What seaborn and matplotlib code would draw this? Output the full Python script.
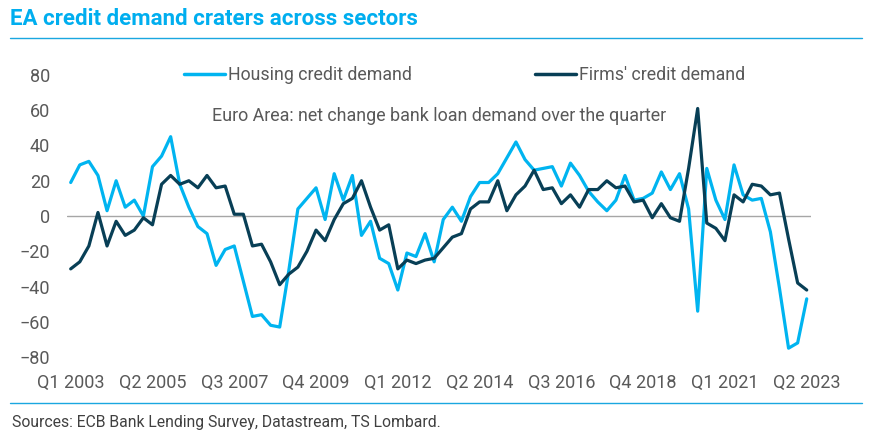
import matplotlib
matplotlib.use("Agg")
import matplotlib.pyplot as plt
from matplotlib.lines import Line2D
import seaborn as sns
import pandas as pd
import numpy as np

# ---- data (Q1 2003 .. Q2 2023, quarterly) ----
housing = [19, 29, 31, 23, 3, 20, 5, 9, 0, 28,
           34, 45, 18, 5, -6, -10, -28, -19, -17, -37,
           -57, -56, -62, -63, -31, 4, 10, 16, -2, 24,
           9, 23, -11, -3, -24, -27, -42, -21, -23, -10,
           -26, -2, 5, -3, 11, 19, 19, 24, 33, 42,
           32, 26, 27, 28, 17, 30, 23, 14, 8, 3,
           9, 23, 9, 10, 13, 25, 15, 24, 4, -54,
           27, 9, -2, 29, 12, 9, 10, -9, -41, -75,
           -72, -47]
firms = [-30, -26, -17, 2, -17, -3, -11, -8, -1, -5,
         18, 23, 18, 20, 16, 23, 16, 17, 1, 1,
         -17, -16, -26, -39, -33, -29, -20, -8, -14, -2,
         7, 10, 20, 5, -8, -5, -30, -25, -27, -25,
         -24, -18, -12, -10, 4, 8, 8, 20, 3, 12,
         17, 26, 15, 16, 7, 12, 5, 15, 15, 20,
         16, 17, 8, 9, -1, 7, -1, -3, 27, 61,
         -4, -7, -14, 12, 8, 18, 17, 12, 13, -13,
         -38, -42]
tick_labels = ["Q1 2003", "Q2 2005", "Q3 2007", "Q4 2009", "Q1 2012",
               "Q2 2014", "Q3 2016", "Q4 2018", "Q1 2021", "Q2 2023"]
series_names = ["Housing credit demand", "Firms' credit demand"]
colors = ["#00B4F0", "#083F56"]

n = len(housing)
df = pd.DataFrame({
    "q": list(range(n)) * 2,
    "value": housing + firms,
    "series": [series_names[0]] * n + [series_names[1]] * n,
})

sns.set_theme(style="white")
plt.rcParams["font.family"] = ["Roboto", "DejaVu Sans"]

fig = plt.figure(figsize=(8.71, 4.42), dpi=100)
ax = fig.add_axes([66.7 / 871, 1 - 357 / 442, (811 - 66.7) / 871, (357 - 75) / 442])

sns.lineplot(data=df, x="q", y="value", hue="series", palette=colors,
             linewidth=2.3, ax=ax, legend=False)

ax.axhline(0, color="#A6A6A6", linewidth=1.0, zorder=0)
ax.set_xlim(-0.44, n - 1 + 0.47)
ax.set_ylim(-80, 80)
ax.set_yticks(range(-80, 81, 20))
ax.set_xticks(range(0, n, 9))
ax.set_xticklabels(tick_labels)
ax.set_xlabel("")
ax.set_ylabel("")
for s in ax.spines.values():
    s.set_visible(False)
ax.tick_params(axis="both", length=0, labelsize=13, labelcolor="#595959")
ax.tick_params(axis="x", pad=12)
ax.tick_params(axis="y", pad=12)
ax.patch.set_alpha(0)

handles = [Line2D([0], [0], color=c, linewidth=2.5) for c in colors]
fig.legend(handles, series_names, loc="center", bbox_to_anchor=(464.5 / 871, 1 - 75 / 442),
           ncol=2, frameon=False, fontsize=12.8, labelcolor="#595959",
           handlelength=2.3, handletextpad=0.2, columnspacing=6.9)

fig.text(439 / 871, 1 - 116 / 442, "Euro Area: net change bank loan demand over the quarter",
         ha="center", va="center", fontsize=12.85, color="#595959")

fig.text(10 / 871, 1 - 19 / 442, "EA credit demand craters across sectors",
         ha="left", va="center", fontsize=16, fontweight="bold", color="#00AEEF")
fig.add_artist(Line2D([10 / 871, 862 / 871], [1 - 38 / 442, 1 - 38 / 442],
                      color="#1AA7E0", linewidth=1.0))
fig.add_artist(Line2D([10 / 871, 862 / 871], [1 - 403 / 442, 1 - 403 / 442],
                      color="#1AA7E0", linewidth=1.0))
fig.text(12 / 871, 1 - 423 / 442, "Sources: ECB Bank Lending Survey, Datastream, TS Lombard.",
         ha="left", va="center", fontsize=11.3, color="#404040")

fig.savefig("out.png", dpi=100)
